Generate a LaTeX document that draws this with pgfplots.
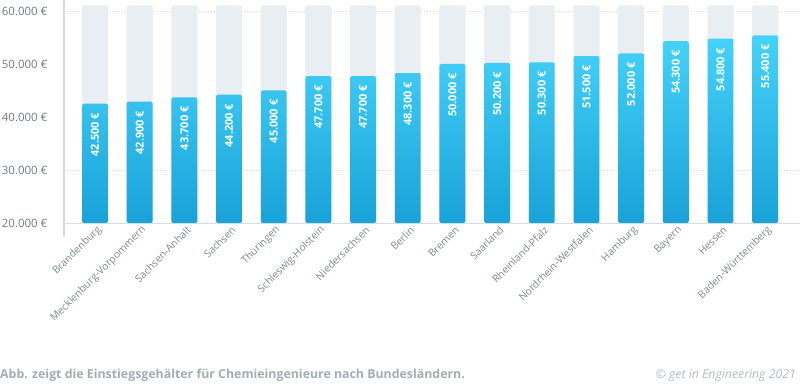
\documentclass[border=0pt]{standalone}
\usepackage{pgfplots}
\pgfplotsset{compat=1.18}
\usepackage{fontspec}
\setmainfont{Open Sans}
\definecolor{bgbar}{HTML}{E8EEF2}
\definecolor{bartop}{HTML}{46D3F9}
\definecolor{barbot}{HTML}{19A2D8}
\definecolor{ticklab}{HTML}{6F7B86}
\definecolor{catlab}{HTML}{7B8793}
\definecolor{caption}{HTML}{A3ABB3}
\definecolor{copyc}{HTML}{B3BAC1}
\definecolor{gridc}{HTML}{C9D5DD}
\definecolor{axisc}{HTML}{D6DCE1}
\newcommand{\shiftby}[2]{%
  \pgfmathfloatparsenumber{#1}\let\tmpa\pgfmathresult
  \pgfmathfloatparsenumber{#2}\let\tmpb\pgfmathresult
  \pgfmathfloatadd{\tmpa}{\tmpb}%
  \pgfmathfloattofixed{\pgfmathresult}}
\begin{document}
\begin{tikzpicture}[x=1bp,y=1bp]
\path[use as bounding box] (0,0) rectangle (806,383);
\begin{axis}[
  at={(64bp,160bp)}, anchor=south west,
  scale only axis, width=736bp, height=223bp,
  xmin=-0.694, xmax=15.78,
  ymin=20000, ymax=62075,
  y coord trafo/.code={\shiftby{#1}{-20000}},
  y coord inv trafo/.code={\shiftby{#1}{20000}},
  axis line style={draw=none},
  major tick length=0pt,
  ytick={20000,30000,40000,50000,60000},
  yticklabels={20.000 €,30.000 €,40.000 €,50.000 €,60.000 €},
  yticklabel style={font=\fontsize{11.5}{12}\selectfont, text=ticklab, anchor=east, xshift=-13bp},
  extra y ticks={30000,60000},
  extra y tick labels={},
  extra y tick style={ymajorgrids=true, major grid style={gridc, line width=0.8bp, dash pattern=on 1bp off 2bp}},
  xtick={0,...,15},
  xticklabels={Brandenburg,Mecklenburg-Vorpommern,Sachsen-Anhalt,Sachsen,Thüringen,Schleswig-Holstein,Niedersachsen,Berlin,Bremen,Saarland,Rheinland-Pfalz,Nordrhein-Westfalen,Hamburg,Bayern,Hessen,Baden-Württemberg},
  xticklabel style={font=\fontsize{10.3}{11}\selectfont, text=catlab, rotate=45, anchor=east, xshift=3bp, yshift=-7bp},
  clip=false,
]
\addplot[ybar, bar width=0.58, bar shift=0pt, fill=bgbar, draw=bgbar!70!white, rounded corners=2bp]
coordinates {(0,61000)(1,61000)(2,61000)(3,61000)(4,61000)(5,61000)(6,61000)(7,61000)(8,61000)(9,61000)(10,61000)(11,61000)(12,61000)(13,61000)(14,61000)(15,61000)};
\addplot[ybar, bar width=0.58, bar shift=0pt, draw=none, top color=bartop, bottom color=barbot, rounded corners=2bp,
  point meta=explicit symbolic,
  nodes near coords,
  every node near coord/.append style={rotate=90, anchor=east, inner xsep=9bp, text=white, font=\fontsize{11}{12}\selectfont\bfseries}]
coordinates {
(0,42500) [42.500 €]
(1,42900) [42.900 €]
(2,43700) [43.700 €]
(3,44200) [44.200 €]
(4,45000) [45.000 €]
(5,47700) [47.700 €]
(6,47700) [47.700 €]
(7,48300) [48.300 €]
(8,50000) [50.000 €]
(9,50200) [50.200 €]
(10,50300) [50.300 €]
(11,51500) [51.500 €]
(12,52000) [52.000 €]
(13,54300) [54.300 €]
(14,54800) [54.800 €]
(15,55400) [55.400 €]
};
\draw[axisc, line width=1bp] (rel axis cs:0,0) -- (rel axis cs:1,0);
\draw[axisc, line width=1.2bp] (rel axis cs:0,1) -- ([yshift=-14bp]rel axis cs:0,0);
\end{axis}
\node[anchor=base west, inner sep=0pt, text=caption, font=\fontsize{12.4}{13}\selectfont\bfseries] at (0,5) {Abb. zeigt die Einstiegsgehälter für Chemieingenieure nach Bundesländern.};
\node[anchor=base east, inner sep=0pt, text=copyc, font=\fontsize{12.3}{13}\selectfont\itshape] at (796,5) {© get in Engineering 2021};
\end{tikzpicture}
\end{document}
